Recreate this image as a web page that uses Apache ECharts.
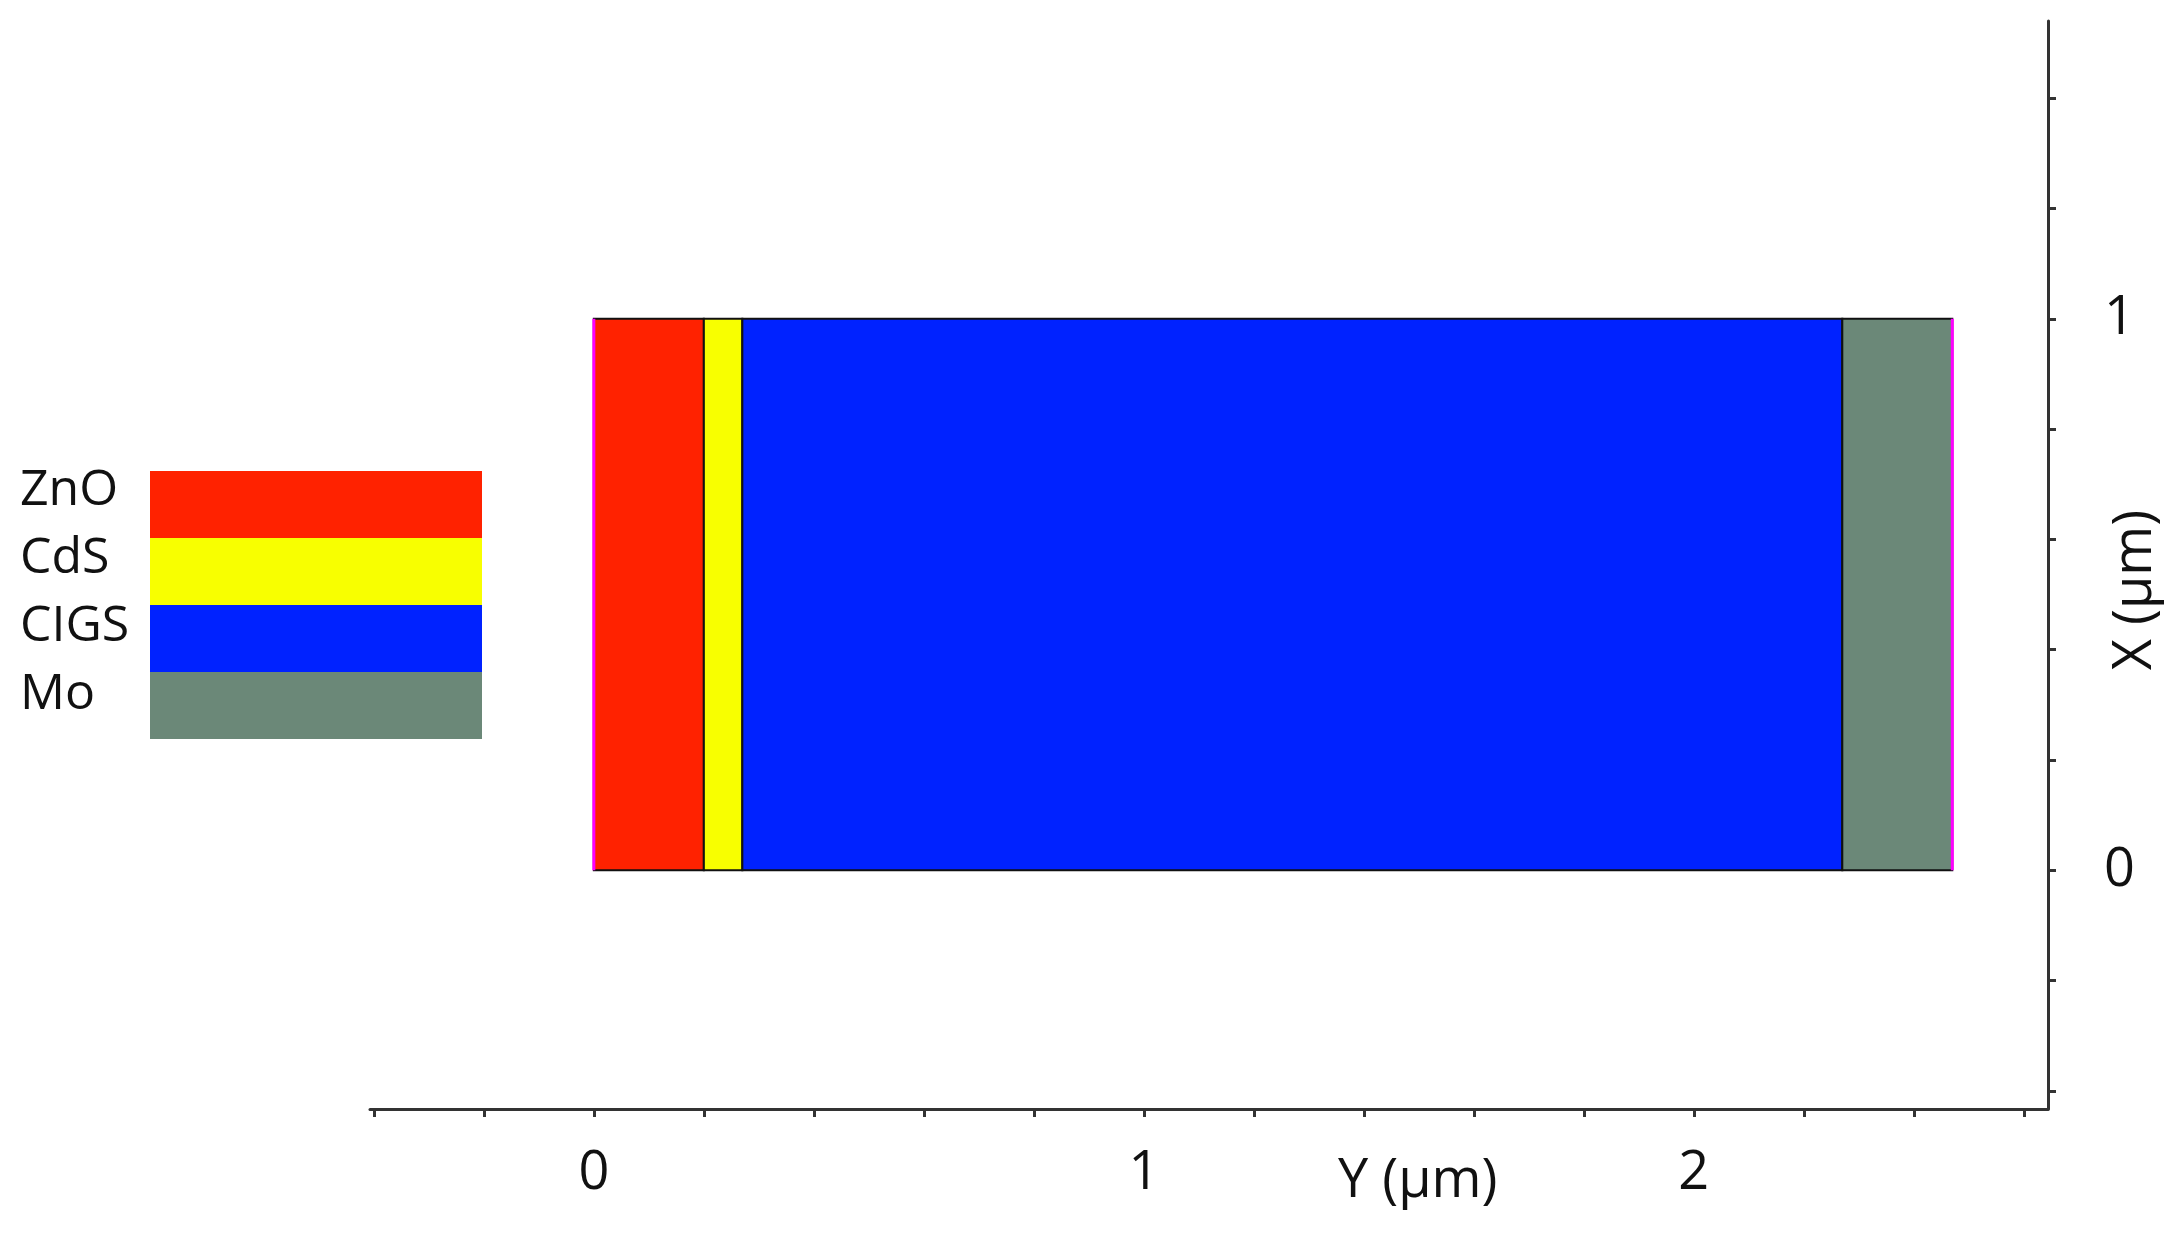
<!DOCTYPE html>
<html>
<head>
<meta charset="utf-8">
<script src="https://cdn.jsdelivr.net/npm/echarts@6/dist/echarts.min.js"></script>
<style>html,body{margin:0;padding:0;background:#fff}#main{width:2181px;height:1241px}</style>
</head>
<body>
<div id="main"></div>
<script>
var layerNames = ['ZnO', 'CdS', 'CIGS', 'Mo'];
var layerStart = [0, 0.2, 0.27, 2.27];
var layerEnd = [0.2, 0.27, 2.27, 2.47];
var layerColors = ['#ff2200', '#f8ff00', '#0022ff', '#6b8878'];
var contactX = [0, 2.47];
var xTicks = [-0.4, -0.2, 0, 0.2, 0.4, 0.6, 0.8, 1, 1.2, 1.4, 1.6, 1.8, 2, 2.2, 2.4, 2.6];
var xLabels = [0, 1, 2];
var yTicks = [-0.4, -0.2, 0, 0.2, 0.4, 0.6, 0.8, 1, 1.2, 1.4];
var yLabels = [0, 1];

var myChart = echarts.init(document.getElementById('main'));
var font = 'Open Sans';

var layerData = [];
for (var i = 0; i < layerNames.length; i++) {
    layerData.push([layerStart[i], layerEnd[i], i]);
}

var legendGraphics = [];
for (var k = 0; k < layerNames.length; k++) {
    legendGraphics.push({
        type: 'rect', left: 150, top: 471 + k * 67,
        shape: { width: 332, height: 67 }, style: { fill: layerColors[k] }
    });
    legendGraphics.push({
        type: 'text', left: 20, top: 466 + k * 68,
        style: { text: layerNames[k], font: '50px "' + font + '"', fill: '#111' }
    });
}
legendGraphics.push({
    type: 'text', left: 1338, top: 1155,
    style: { text: 'Y (µm)', font: '54px "' + font + '"', fill: '#111' }
});
legendGraphics.push({
    type: 'text', x: 2136, y: 590, rotation: Math.PI / 2,
    style: { text: 'X (µm)', font: '54px "' + font + '"', fill: '#111', align: 'center', verticalAlign: 'middle' }
});

var axisLine = { show: true, onZero: false, lineStyle: { color: '#333', width: 3 } };

var option = {
    animation: false,
    grid: { left: 370, right: 133, top: 21, bottom: 132, outerBoundsMode: 'none', containLabel: false },
    xAxis: {
        type: 'value', min: -0.407, max: 2.644,
        splitLine: { show: false },
        axisLine: axisLine,
        axisTick: { show: true, customValues: xTicks, length: 8, lineStyle: { color: '#333', width: 3 } },
        axisLabel: { customValues: xLabels, margin: 38, fontSize: 54, color: '#111', fontFamily: font }
    },
    yAxis: {
        type: 'value', position: 'right', min: -0.433, max: 1.54,
        splitLine: { show: false },
        axisLine: axisLine,
        axisTick: { show: true, customValues: yTicks, length: 8, lineStyle: { color: '#333', width: 3 } },
        axisLabel: { customValues: yLabels, margin: 56, fontSize: 54, color: '#111', fontFamily: font }
    },
    graphic: legendGraphics,
    series: [{
        type: 'custom',
        data: layerData,
        renderItem: function (params, api) {
            var p0 = api.coord([api.value(0), 1]);
            var p1 = api.coord([api.value(1), 0]);
            return {
                type: 'rect',
                shape: { x: p0[0], y: p0[1], width: p1[0] - p0[0], height: p1[1] - p0[1] },
                style: { fill: layerColors[api.value(2)], stroke: '#111', lineWidth: 2 }
            };
        }
    }, {
        type: 'custom',
        data: contactX,
        renderItem: function (params, api) {
            var a = api.coord([api.value(0), 1]);
            var b = api.coord([api.value(0), 0]);
            return {
                type: 'line',
                shape: { x1: a[0], y1: a[1], x2: b[0], y2: b[1] },
                style: { stroke: '#ff00ff', lineWidth: 3 }
            };
        }
    }]
};
myChart.setOption(option);
</script>
</body>
</html>
